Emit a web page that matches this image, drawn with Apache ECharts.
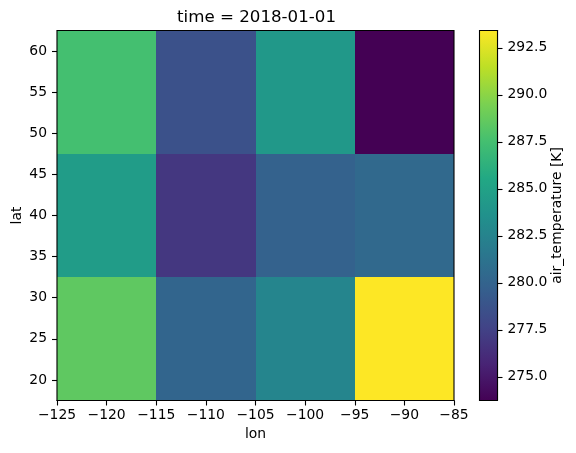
<!DOCTYPE html>
<html>
<head>
<meta charset="utf-8">
<style>html,body{margin:0;padding:0;background:#fff}#chart{width:576px;height:453px}</style>
<script src="https://cdn.jsdelivr.net/npm/echarts@6/dist/echarts.min.js"></script>
</head>
<body>
<div id="chart"></div>
<script>
// cell centres, temperatures
const lons = [-120, -110, -100, -90];
const lats = [25, 40, 55];
const temps25 = [288.5, 280.1, 282.6, 293.42];
const temps40 = [284.5, 276.9, 279.9, 280.4];
const temps55 = [287.5, 278.6, 284.2, 273.74];
const lonTicks = [-125, -120, -115, -110, -105, -100, -95, -90, -85];
const latTicks = [20, 25, 30, 35, 40, 45, 50, 55, 60];
const barTicks = [275, 277.5, 280, 282.5, 285, 287.5, 290, 292.5];
const viridis = ['#440154','#482475','#414487','#355f8d','#2a788e','#21918c','#22a884','#44bf70','#7ad151','#bddf26','#fde725'];
const tmin = 273.74, tmax = 293.42;

const font = 'DejaVu Sans';
const ink = '#000';
const rows = [temps25, temps40, temps55];
const data = [];
rows.forEach((row, j) => row.forEach((t, i) => data.push([lons[i], lats[j], t])));

const chart = echarts.init(document.getElementById('chart'), null, {renderer: 'canvas'});

function axisCommon(name, gap, ticks, fmt, margin) {
  return {
    type: 'value',
    name: name,
    nameLocation: 'middle',
    nameGap: gap,
    nameMoveOverlap: false,
    nameTextStyle: {fontFamily: font, fontSize: 13.9, color: ink},
    axisLine: {show: true, onZero: false, lineStyle: {color: ink, width: 1.1}},
    axisTick: {show: true, length: 5, customValues: ticks, lineStyle: {color: ink, width: 1.1}},
    axisLabel: {fontFamily: font, fontSize: 13.9, color: ink, margin: margin, customValues: ticks, formatter: fmt, hideOverlap: false},
    splitLine: {show: false}
  };
}
const minus = v => String(v).replace('-', '\u2212');

// outline drawn over the cells, from the grid's own rectangle
function frameItem(params) {
  const c = params.coordSys;
  return {type: 'rect', shape: {x: c.x, y: c.y, width: c.width, height: c.height},
    style: {fill: 'none', stroke: ink, lineWidth: 1.1}};
}

chart.setOption({
  animation: false,
  title: {
    text: 'time = 2018-01-01',
    left: 251.5, top: 4, textAlign: 'center',
    textStyle: {fontFamily: font, fontSize: 16.67, fontWeight: 'normal', color: ink}
  },
  grid: [
    {left: 57, top: 30.5, width: 397, height: 370, outerBoundsMode: 'none'},
    {left: 479.5, top: 30.5, width: 18, height: 370, outerBoundsMode: 'none'}
  ],
  xAxis: [
    Object.assign(axisCommon('lon', 27, lonTicks, minus, 8), {min: -125, max: -85, gridIndex: 0}),
    {type: 'value', gridIndex: 1, min: 0, max: 1, show: false}
  ],
  yAxis: [
    Object.assign(axisCommon('lat', 33, latTicks, minus, 10), {min: 17.5, max: 62.5, gridIndex: 0}),
    Object.assign(axisCommon('air_temperature [K]', 53, barTicks, v => v.toFixed(1), 10), {
      min: tmin, max: tmax, gridIndex: 1, position: 'right'
    })
  ],
  visualMap: {
    show: false, min: tmin, max: tmax, dimension: 2, seriesIndex: 0,
    inRange: {color: viridis}
  },
  series: [
    {
      type: 'custom', xAxisIndex: 0, yAxisIndex: 0, data: data, encode: {x: 0, y: 1},
      renderItem(params, api) {
        const a = api.coord([api.value(0) - 5, api.value(1) + 7.5]);
        const b = api.coord([api.value(0) + 5, api.value(1) - 7.5]);
        const x = Math.round(a[0]), y = Math.round(a[1]);
        return {type: 'rect', shape: {x: x, y: y, width: Math.round(b[0]) - x, height: Math.round(b[1]) - y},
          style: {fill: api.visual('color')}};
      }
    },
    {
      // colour bar
      type: 'custom', xAxisIndex: 1, yAxisIndex: 1, data: [[0, tmin, 1, tmax]], encode: {x: 0, y: 1},
      renderItem(params, api) {
        const a = api.coord([api.value(0), api.value(3)]);
        const b = api.coord([api.value(2), api.value(1)]);
        return {type: 'rect', shape: {x: a[0], y: a[1], width: b[0] - a[0], height: b[1] - a[1]},
          style: {
            fill: new echarts.graphic.LinearGradient(0, 1, 0, 0,
              viridis.map((c, i) => ({offset: i / (viridis.length - 1), color: c}))),
            stroke: ink, lineWidth: 1.1
          }};
      }
    },
    {type: 'custom', xAxisIndex: 0, yAxisIndex: 0, z: 5, silent: true, clip: false, data: [[-105, 40]], renderItem: frameItem}
  ]
});
</script>
</body>
</html>
